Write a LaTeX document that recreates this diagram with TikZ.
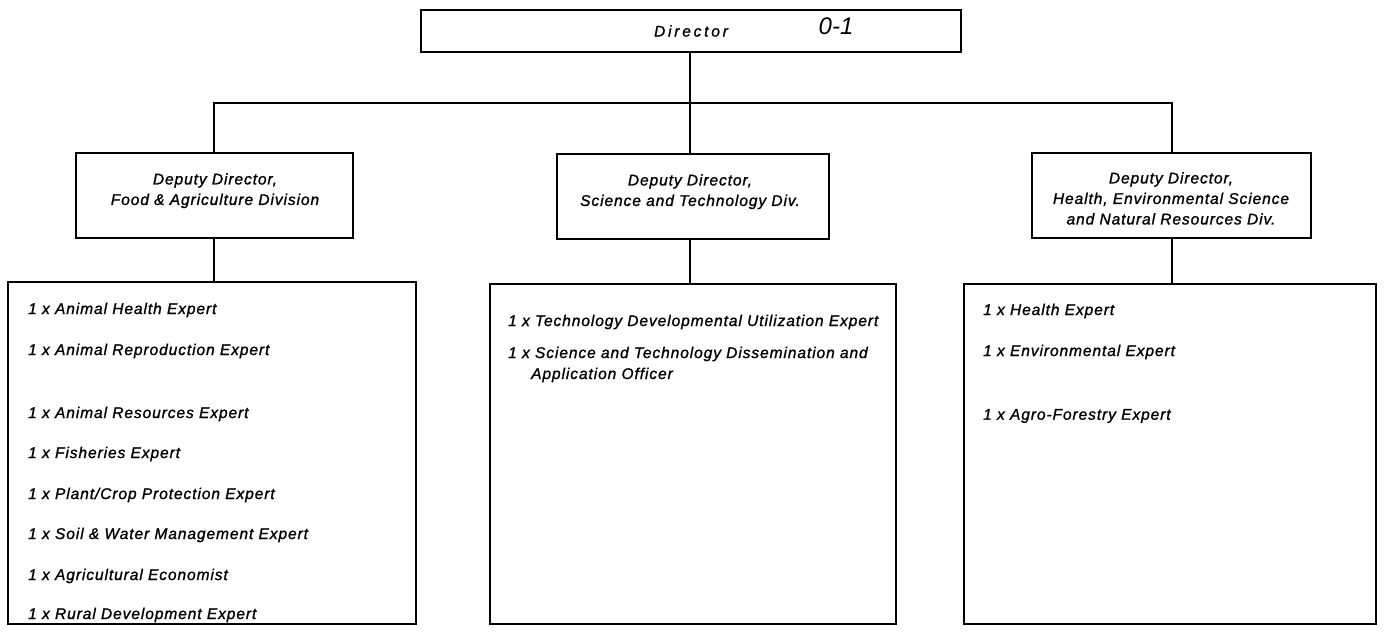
\documentclass[tikz,border=0pt]{standalone}
\usepackage{fontspec}
\setmainfont{Liberation Sans}
\newfontfamily\labfont[LetterSpace=6,FakeBold=1.2]{Liberation Sans Italic}
\newfontfamily\dirfont[LetterSpace=18,FakeBold=1.2]{Liberation Sans Italic}
\newfontfamily\notefont{Liberation Sans Italic}
\usetikzlibrary{calc}
\begin{document}
\begin{tikzpicture}[x=1pt,y=-1pt,
  boxline/.style={draw=black,line width=1.8pt},
  conn/.style={draw=black,line width=1.8pt},
  bx/.style={boxline,rectangle,inner sep=0pt,anchor=north west},
  dtext/.style={font=\labfont\fontsize{15.5}{20.5}\selectfont,align=center,anchor=north,inner sep=0pt},
  itm/.style={font=\labfont\fontsize{15.5}{20.5}\selectfont,anchor=west,inner sep=0pt}
]
\useasboundingbox[fill=white] (0,0) rectangle (1384,634);

% Director
\node[bx,minimum width=540pt,minimum height=42pt] (dir) at (420,9) {};
\node[font=\dirfont\fontsize{15.5}{18}\selectfont,inner sep=0pt] (dirt) at (691,31) {Director};
\node[font=\notefont\fontsize{24}{26}\selectfont,inner sep=0pt] (note) at (836,26) {0-1};

% Deputy boxes
\node[bx,minimum width=277pt,minimum height=85pt] (d1) at (75,152) {};
\node[bx,minimum width=272pt,minimum height=85pt] (d2) at (556,153) {};
\node[bx,minimum width=279pt,minimum height=85pt] (d3) at (1031,152) {};
\node[dtext] (d1t) at (215,173) {Deputy Director,\\Food \& Agriculture Division};
\node[dtext] (d2t) at (690,174) {Deputy Director,\\Science and Technology Div.};
\node[dtext] (d3t) at (1171,172) {Deputy Director,\\Health, Environmental Science\\and Natural Resources Div.};

% List boxes
\node[bx,minimum width=408pt,minimum height=342pt] (l1) at (7,281) {};
\node[bx,minimum width=406pt,minimum height=340pt] (l2) at (489,283) {};
\node[bx,minimum width=412pt,minimum height=340pt] (l3) at (963,283) {};

% Connectors
\coordinate (j) at (690,103);
\draw[conn] (dir.south -| j) -- (j);
\draw[conn] (214,152) -- (214,103) -- (1172,103) -- (1172,152);
\draw[conn] (j) -- (690,153);
\draw[conn] (214,237) -- (214,281);
\draw[conn] (690,238) -- (690,283);
\draw[conn] (1172,237) -- (1172,283);

% Items box 1
\node[itm] (a1) at (28,310) {1 x Animal Health Expert};
\node[itm] (a2) at (28,351) {1 x Animal Reproduction Expert};
\node[itm] (a3) at (28,414) {1 x Animal Resources Expert};
\node[itm] (a4) at (28,454) {1 x Fisheries Expert};
\node[itm] (a5) at (28,495) {1 x Plant/Crop Protection Expert};
\node[itm] (a6) at (28,535) {1 x Soil \& Water Management Expert};
\node[itm] (a7) at (28,576) {1 x Agricultural Economist};
\node[itm] (a8) at (28,615) {1 x Rural Development Expert};

% Items box 2
\node[itm] (b1) at (508,322) {1 x Technology Developmental Utilization Expert};
\node[itm] (b2) at (508,354) {1 x Science and Technology Dissemination and};
\node[itm] (b2b) at (531,375) {Application Officer};

% Items box 3
\node[itm] (c1) at (983,311) {1 x Health Expert};
\node[itm] (c2) at (983,352) {1 x Environmental Expert};
\node[itm] (c3) at (983,416) {1 x Agro-Forestry Expert};
\end{tikzpicture}
\end{document}
